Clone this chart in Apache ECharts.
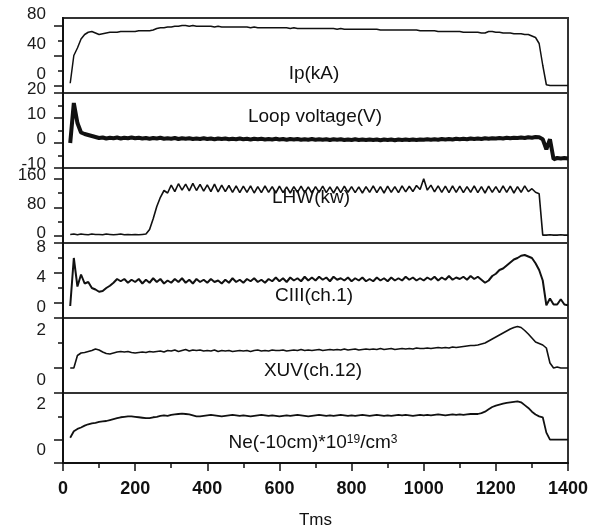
<!DOCTYPE html>
<html>
<head>
<meta charset="utf-8">
<script src="https://cdn.jsdelivr.net/npm/echarts@6/dist/echarts.min.js"></script>
<style>
  html, body { margin: 0; padding: 0; background: #fff; }
  #chart { width: 602px; height: 530px; }
</style>
</head>
<body>
<div id="chart"></div>
<script>
// tiempo de la descarga (ms)
const timeMs = [
  0, 10, 20, 30, 40, 50, 60, 70, 80, 90,
  100, 110, 120, 130, 140, 150, 160, 170, 180, 190,
  200, 210, 220, 230, 240, 250, 260, 270, 280, 290,
  300, 310, 320, 330, 340, 350, 360, 370, 380, 390,
  400, 410, 420, 430, 440, 450, 460, 470, 480, 490,
  500, 510, 520, 530, 540, 550, 560, 570, 580, 590,
  600, 610, 620, 630, 640, 650, 660, 670, 680, 690,
  700, 710, 720, 730, 740, 750, 760, 770, 780, 790,
  800, 810, 820, 830, 840, 850, 860, 870, 880, 890,
  900, 910, 920, 930, 940, 950, 960, 970, 980, 990,
  1000, 1010, 1020, 1030, 1040, 1050, 1060, 1070, 1080, 1090,
  1100, 1110, 1120, 1130, 1140, 1150, 1160, 1170, 1180, 1190,
  1200, 1210, 1220, 1230, 1240, 1250, 1260, 1270, 1280, 1290,
  1300, 1310, 1320, 1330, 1340, 1350, 1360, 1370, 1380, 1390,
  1400
];

// corriente de plasma Ip (kA)
const ipKA = [
  null, null, 3, 40, 50, 62, 68, 71, 72, 70,
  68, 69, 70, 71, 71, 71, 72, 72, 72, 72,
  72, 73, 73, 73, 73, 74, 76, 77, 77, 78,
  78, 79, 79, 80, 80, 79, 80, 79, 79, 79,
  79, 79, 78, 79, 78, 78, 78, 78, 78, 78,
  78, 78, 77, 78, 77, 77, 77, 77, 77, 77,
  77, 77, 77, 76, 77, 76, 76, 76, 76, 76,
  76, 76, 76, 76, 76, 76, 75, 76, 75, 75,
  75, 75, 75, 75, 75, 75, 75, 75, 74, 74,
  74, 74, 74, 74, 74, 74, 74, 74, 74, 73,
  73, 73, 73, 73, 72, 72, 72, 72, 72, 72,
  72, 71, 71, 71, 71, 71, 70, 70, 72, 72,
  71, 71, 70, 70, 70, 69, 69, 69, 68, 68,
  66, 64, 56, 27, 1, 0, 0, 0, 0, 0,
  0
];

// tension de lazo (V)
const loopV = [
  null, null, 0, 16, 8, 4.2, 3.6, 3.2, 2.8, 2.4,
  2.0, 2.2, 1.8, 2.1, 1.9, 2.2, 1.8, 2.1, 1.9, 2.2,
  1.9, 2.1, 1.8, 2.0, 1.7, 2.0, 1.8, 2.1, 1.7, 1.9,
  1.7, 2.0, 1.6, 1.9, 1.7, 1.9, 1.6, 1.8, 1.6, 1.9,
  1.6, 1.8, 1.5, 1.8, 1.6, 1.8, 1.5, 1.7, 1.5, 1.8,
  1.5, 1.7, 1.4, 1.7, 1.5, 1.7, 1.4, 1.6, 1.4, 1.7,
  1.4, 1.6, 1.3, 1.6, 1.4, 1.6, 1.3, 1.5, 1.3, 1.6,
  1.3, 1.5, 1.3, 1.5, 1.2, 1.5, 1.3, 1.5, 1.2, 1.4,
  1.2, 1.5, 1.2, 1.4, 1.2, 1.4, 1.2, 1.4, 1.1, 1.4,
  1.2, 1.4, 1.1, 1.4, 1.2, 1.4, 1.2, 1.4, 1.2, 1.4,
  1.3, 1.5, 1.3, 1.5, 1.3, 1.6, 1.4, 1.6, 1.4, 1.7,
  1.5, 1.7, 1.5, 1.8, 1.6, 1.8, 1.6, 1.9, 1.7, 1.9,
  1.8, 2.0, 1.8, 2.1, 1.9, 2.1, 2.0, 2.2, 2.0, 2.3,
  2.1, 2.4, 2.3, 1.5, -2.5, 1.5, -6.5, -6.0, -6.2, -6.0,
  -6.2
];

// potencia LHW (kW)
const lhwKW = [
  null, null, 4, 5, 3, 5, 4, 3, 5, 4,
  4, 3, 5, 4, 3, 4, 5, 3, 4, 3,
  4, 3, 4, 5, 18, 48, 82, 108, 127, 120,
  142, 124, 146, 128, 145, 126, 147, 127, 144, 125,
  143, 124, 145, 123, 142, 124, 141, 122, 140, 121,
  139, 122, 140, 120, 138, 121, 140, 122, 138, 120,
  139, 121, 137, 120, 138, 122, 139, 121, 137, 120,
  138, 122, 139, 121, 137, 120, 138, 121, 139, 122,
  138, 121, 137, 120, 138, 122, 140, 121, 138, 120,
  139, 122, 138, 121, 140, 123, 139, 124, 141, 130,
  160, 128, 142, 123, 140, 122, 139, 121, 140, 122,
  139, 121, 138, 122, 140, 121, 138, 120, 139, 122,
  138, 121, 140, 122, 139, 120, 138, 122, 140, 124,
  132, 122, 118, 2, 2, 3, 2, 2, 3, 2,
  2
];

// CIII canal 1
const ciii = [
  null, null, -0.4, 6.0, 2.2, 3.8, 2.6, 2.8, 2.0, 1.8,
  1.5, 1.6, 2.0, 2.3, 2.7, 3.2, 2.9, 3.2, 2.7, 3.1,
  2.8, 3.2, 2.6, 3.1, 2.7, 3.3, 2.8, 3.2, 2.6, 3.0,
  2.7, 3.2, 2.8, 3.3, 2.7, 3.1, 2.6, 3.2, 2.8, 3.1,
  2.7, 3.2, 2.8, 3.0, 2.6, 3.1, 2.7, 3.3, 2.8, 3.1,
  2.7, 3.2, 2.9, 3.3, 2.8, 3.1, 2.7, 3.2, 2.9, 3.4,
  2.9, 3.3, 2.8, 3.4, 3.0, 3.3, 2.9, 3.5, 3.0, 3.4,
  3.0, 3.5, 3.1, 3.4, 2.9, 3.5, 3.1, 3.3, 3.0, 3.4,
  2.9, 3.3, 3.0, 3.4, 2.9, 3.2, 2.9, 3.4, 3.0, 3.3,
  2.9, 3.4, 3.0, 3.3, 3.0, 3.5, 3.1, 3.4, 3.0, 3.3,
  3.0, 3.4, 3.1, 3.5, 3.0, 3.4, 3.1, 3.6, 3.1, 3.4,
  3.2, 3.5, 3.1, 3.6, 3.2, 3.5, 3.1, 2.7, 3.0, 3.6,
  3.9, 4.4, 4.6, 5.0, 5.4, 5.8, 6.0, 6.3, 6.4, 6.2,
  6.0, 5.3, 4.4, 3.0, -0.3, 0.6, -0.2, -0.2, 0.5, -0.2,
  -0.3
];

// XUV canal 12
const xuv = [
  null, null, 0, 0, 0.5, 0.6, 0.62, 0.66, 0.7, 0.76,
  0.72, 0.64, 0.58, 0.56, 0.6, 0.64, 0.66, 0.64, 0.66, 0.62,
  0.6, 0.62, 0.64, 0.62, 0.66, 0.64, 0.66, 0.68, 0.64, 0.7,
  0.68, 0.72, 0.66, 0.7, 0.74, 0.68, 0.72, 0.7, 0.72, 0.68,
  0.7, 0.68, 0.72, 0.66, 0.7, 0.68, 0.7, 0.66, 0.68, 0.7,
  0.68, 0.7, 0.66, 0.7, 0.72, 0.68, 0.7, 0.68, 0.72, 0.7,
  0.7, 0.72, 0.68, 0.7, 0.72, 0.7, 0.74, 0.7, 0.72, 0.7,
  0.72, 0.74, 0.7, 0.72, 0.74, 0.72, 0.74, 0.72, 0.76, 0.72,
  0.74, 0.76, 0.72, 0.74, 0.76, 0.74, 0.76, 0.74, 0.78, 0.74,
  0.76, 0.78, 0.74, 0.76, 0.78, 0.76, 0.78, 0.76, 0.8, 0.78,
  0.78, 0.8, 0.78, 0.8, 0.82, 0.8, 0.82, 0.8, 0.84, 0.82,
  0.84, 0.86, 0.88, 0.9, 0.9, 0.92, 0.96, 1.0, 1.08, 1.16,
  1.24, 1.32, 1.4, 1.48, 1.56, 1.62, 1.66, 1.62, 1.5, 1.36,
  1.2, 1.04, 0.98, 0.92, 0.8, 0.2, 0, 0.04, 0, 0,
  0
];

// densidad Ne(-10cm), 10^19/m^3
const ne = [
  null, null, 0.08, 0.36, 0.46, 0.52, 0.6, 0.66, 0.7, 0.72,
  0.76, 0.78, 0.8, 0.84, 0.88, 0.92, 0.96, 0.98, 1.0, 1.0,
  0.98, 0.96, 0.94, 0.92, 0.92, 0.96, 0.98, 1.02, 1.04, 1.02,
  1.06, 1.08, 1.1, 1.12, 1.1, 1.08, 1.04, 1.0, 1.0, 1.02,
  1.04, 1.06, 1.04, 1.02, 1.0, 1.02, 1.04, 1.06, 1.04, 1.02,
  1.04, 1.02, 1.0, 1.02, 1.04, 1.06, 1.04, 1.02, 1.04, 1.02,
  1.0, 1.02, 1.04, 1.02, 1.04, 1.06, 1.04, 1.02, 1.0, 1.02,
  1.04, 1.06, 1.04, 1.02, 1.04, 1.02, 1.04, 1.06, 1.04, 1.02,
  1.04, 1.02, 1.04, 1.06, 1.04, 1.02, 1.04, 1.06, 1.04, 1.02,
  1.04, 1.02, 1.04, 1.06, 1.04, 1.06, 1.04, 1.02, 1.04, 1.06,
  1.04, 1.06, 1.04, 1.06, 1.08, 1.06, 1.04, 1.06, 1.08, 1.06,
  1.08, 1.06, 1.08, 1.1, 1.1, 1.1, 1.14, 1.2, 1.3, 1.4,
  1.46, 1.5, 1.54, 1.58, 1.6, 1.62, 1.64, 1.6, 1.48, 1.36,
  1.2, 1.08, 1.0, 0.96, 0.3, 0, 0, 0, 0, 0,
  0
];

// ejes de cada panel
const panelSeries = [ipKA, loopV, lhwKW, ciii, xuv, ne];
const panelMin = [-10, -10, -20, -2, -1, -1];
const panelMax = [90, 20, 190, 8, 2, 2];
const majorTicks = [[0, 40, 80], [-10, 0, 10, 20], [0, 80, 160], [-2, 0, 4, 8], [-1, 0, 2], [-1, 0, 2]];
const minorTicks = [[20, 60], [-5, 5, 15], [40, 120], [2, 6], [1], [1]];
const tickLabels = [[0, 40, 80], [-10, 0, 10, 20], [0, 80, 160], [0, 4, 8], [0, 2], [0, 2]];
const panelTitles = ['Ip(kA)', 'Loop voltage(V)', 'LHW(kw)', 'CIII(ch.1)', 'XUV(ch.12)',
  '{n|Ne(-10cm)*10}{s|19}{n|/cm}{s|3}'];
const xAxisName = 'Tms';

// estilo y posiciones
const FONT = '"Liberation Sans", Arial, sans-serif';
const INK = '#111';
const panelTop = 18;
const panelHeight = 75;
// desplazamiento vertical de las etiquetas del eje y respecto a su marca (px)
const labelShift = [-11, -4, -3, 4, 12, 11];
const lineWidths = [1.5, 4, 1.6, 2, 1.6, 1.8];
const titlePos = [[314, 74], [315, 117], [311, 198], [314, 296], [313, 371], [313, 443]];

const grids = [];
const xAxes = [];
const yAxes = [];
const series = [];

panelSeries.forEach((vals, i) => {
  grids.push({
    left: 63, right: 34, top: panelTop + panelHeight * i, height: panelHeight,
    show: true, borderColor: '#333', borderWidth: 2, backgroundColor: 'transparent'
  });

  const last = i === panelSeries.length - 1;
  xAxes.push({
    type: 'value', gridIndex: i, min: 0, max: 1400, interval: 200,
    show: last,
    axisLine: { show: true, onZero: false, lineStyle: { color: INK, width: 2 } },
    axisTick: { show: true, length: 8, lineStyle: { color: INK, width: 1.5 } },
    minorTick: { show: true, splitNumber: 2, length: 5, lineStyle: { color: INK, width: 1.5 } },
    splitLine: { show: false },
    axisLabel: {
      show: last, fontFamily: FONT, fontWeight: 'bold', fontSize: 18, color: INK, margin: 17,
      formatter: (v) => String(v)
    },
    name: last ? xAxisName : '',
    nameLocation: 'middle', nameGap: 49,
    nameTextStyle: { fontFamily: FONT, fontSize: 17, color: INK }
  });

  const d = labelShift[i];
  // eje principal: linea, marcas largas y etiquetas
  yAxes.push({
    type: 'value', gridIndex: i, position: 'left', offset: 0,
    min: panelMin[i], max: panelMax[i],
    axisLine: { show: true, onZero: false, lineStyle: { color: INK, width: 2 } },
    axisTick: { show: true, length: 9, customValues: majorTicks[i], lineStyle: { color: INK, width: 1.5 } },
    axisLabel: {
      show: true, customValues: tickLabels[i], fontFamily: FONT, fontSize: 17, color: '#1a1a1a',
      margin: 17,
      verticalAlign: d < 0 ? 'bottom' : 'top',
      lineHeight: 2 * Math.abs(d)
    },
    splitLine: { show: false }
  });
  // marcas cortas
  yAxes.push({
    type: 'value', gridIndex: i, position: 'left', offset: 0,
    min: panelMin[i], max: panelMax[i],
    axisLine: { show: false },
    axisTick: { show: true, length: 5, customValues: minorTicks[i], lineStyle: { color: INK, width: 1.5 } },
    axisLabel: { show: false },
    splitLine: { show: false }
  });

  series.push({
    type: 'line', xAxisIndex: i, yAxisIndex: 2 * i,
    data: timeMs.map((t, k) => [t, vals[k]]),
    showSymbol: false, silent: true, connectNulls: false,
    lineStyle: { color: INK, width: lineWidths[i] }
  });
});

const graphic = panelTitles.map((txt, i) => ({
  type: 'text', x: titlePos[i][0], y: titlePos[i][1], silent: true,
  style: {
    text: txt, align: 'center', verticalAlign: 'middle', fill: INK,
    font: '19px ' + FONT,
    rich: {
      n: { fontSize: 19, fontFamily: FONT, fill: INK },
      s: { fontSize: 12, fontFamily: FONT, fill: INK, verticalAlign: 'top' }
    }
  }
}));

const chart = echarts.init(document.getElementById('chart'), null, { renderer: 'canvas' });
chart.setOption({
  animation: false,
  backgroundColor: '#fff',
  grid: grids,
  xAxis: xAxes,
  yAxis: yAxes,
  series: series,
  graphic: graphic
});
</script>
</body>
</html>
